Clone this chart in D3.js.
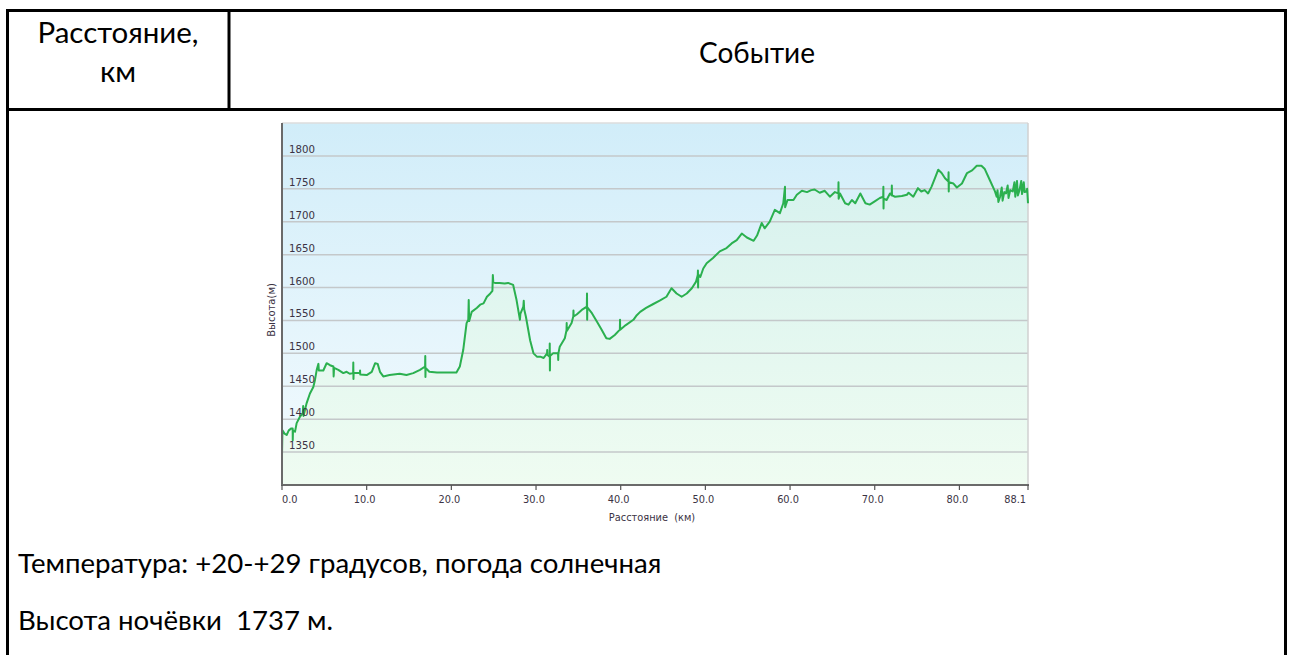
<!DOCTYPE html>
<html><head><meta charset="utf-8">
<script src="https://cdn.jsdelivr.net/npm/d3@7"></script>
<style>html,body{margin:0;padding:0;background:#fff;overflow:hidden}</style>
</head><body><svg id="c" width="1291" height="655"></svg>
<script>
// ---- data ----
const distKm = [0.0,0.05,0.3,0.55,0.8,1.1,1.26,1.27,1.3,1.54,1.73,2.13,2.45,2.5,2.55,2.9,3.3,3.7,3.9,4.1,4.3,4.35,4.88,5.27,5.67,6.07,6.1,6.15,6.65,7.24,7.63,8.0,8.4,8.42,8.44,8.46,9.2,9.22,9.24,10.0,10.6,11.0,11.3,11.57,11.96,12.7,13.9,14.7,15.5,16.3,16.9,16.92,16.94,16.96,17.4,18.3,19.45,20.2,20.6,21.0,21.4,21.8,22.0,22.05,22.1,22.4,23.0,23.4,23.8,24.2,24.6,24.85,24.9,24.95,25.15,25.7,26.3,26.7,27.3,27.7,28.1,28.15,28.5,28.55,28.6,28.8,29.3,29.7,30.1,30.5,30.9,31.3,31.32,31.34,31.6,31.62,31.64,31.66,32.0,32.6,32.62,32.64,32.8,33.4,33.6,33.62,33.64,34.2,34.4,34.42,34.44,34.8,35.4,36.0,36.02,36.04,36.06,36.6,37.2,37.75,38.3,38.7,39.3,39.9,39.92,39.94,40.6,41.5,41.9,42.3,43.0,43.85,44.6,45.4,46.0,46.6,47.2,47.8,48.4,48.9,49.1,49.12,49.14,49.16,49.4,49.75,50.15,50.9,51.7,52.5,53.1,53.7,54.3,54.9,55.7,56.1,56.65,57.0,57.6,58.2,58.8,59.2,59.4,59.42,59.7,60.4,60.8,61.4,62.0,62.5,62.9,63.5,64.1,64.7,65.3,65.7,65.72,65.74,65.9,66.5,66.9,67.3,67.7,68.3,68.9,69.4,70.0,70.6,71.0,71.02,71.04,71.06,71.4,71.8,72.0,72.02,72.04,72.4,73.2,73.8,74.0,74.55,75.1,75.5,75.9,76.3,76.7,77.1,77.5,77.9,78.3,78.7,78.72,78.74,78.76,79.3,79.7,80.3,80.9,81.5,82.05,82.6,83.0,83.6,84.2,84.4,84.5,84.6,84.8,85.0,85.1,85.3,85.5,85.7,85.8,86.0,86.3,86.5,86.6,86.8,86.9,87.1,87.3,87.4,87.6,87.7,87.9,88.0,88.1];
const elevM = [1345,1383,1378,1376,1383,1386,1386,1368,1383,1381,1394,1404,1409,1420,1405,1424,1439,1449,1460,1475,1484,1474,1474,1485,1482,1480,1465,1478,1475,1470,1472,1469,1470,1486,1461,1470,1470,1474,1468,1467,1472,1485,1484,1472,1465,1467,1469,1467,1470,1475,1480,1496,1464,1478,1472,1471,1471,1471,1471,1480,1505,1546,1551,1581,1549,1563,1569,1574,1576,1586,1591,1595,1619,1608,1607,1607,1606,1607,1604,1581,1551,1560,1571,1580,1567,1556,1520,1500,1495,1495,1493,1500,1505,1498,1495,1515,1474,1496,1500,1500,1490,1500,1510,1523,1535,1546,1534,1546,1556,1565,1556,1559,1566,1571,1591,1551,1570,1561,1548,1536,1523,1522,1528,1536,1551,1536,1543,1551,1558,1563,1569,1575,1580,1586,1599,1591,1586,1591,1599,1609,1619,1626,1600,1620,1616,1629,1637,1645,1655,1660,1667,1672,1682,1676,1671,1679,1698,1690,1700,1718,1713,1728,1753,1722,1733,1733,1741,1747,1745,1748,1749,1744,1747,1738,1745,1743,1760,1735,1743,1728,1726,1733,1728,1743,1728,1726,1731,1736,1738,1753,1720,1735,1733,1743,1740,1755,1740,1738,1739,1741,1744,1738,1751,1746,1748,1743,1753,1766,1779,1774,1766,1761,1775,1746,1760,1758,1752,1758,1774,1778,1785,1785,1780,1763,1746,1738,1748,1730,1738,1752,1732,1745,1743,1755,1736,1748,1746,1760,1738,1762,1740,1748,1762,1742,1760,1745,1746,1750,1728];
const yTicks = [1350,1400,1450,1500,1550,1600,1650,1700,1750,1800];
const xTicks = [0,10,20,30,40,50,60,70,80,88.1];
const headerCol1 = ["Расстояние,", "км"];
const headerCol2 = ["Событие"];
const notes = ["Температура: +20-+29 градусов, погода солнечная", "Высота ночёвки  1737 м."];
const xTitle = "Расстояние  (км)";
const yTitle = "Высота(м)";

// ---- drawing ----
const svg = d3.select("#c");
svg.append("rect").attr("width",1291).attr("height",655).attr("fill","#fff");

const pts = distKm.map((d,i)=>({d, e: elevM[i]}));
const x = d3.scaleLinear().domain([0, 88.1]).range([282, 1028]);
const y = d3.scaleLinear().domain([1300, 1850]).range([485, 123]);

const defs = svg.append("defs");
const bg = defs.append("linearGradient").attr("id","bg").attr("gradientUnits","userSpaceOnUse")
  .attr("x1",0).attr("y1",123).attr("x2",0).attr("y2",485);
bg.append("stop").attr("offset",0).attr("stop-color","#d1edf9");
bg.append("stop").attr("offset",1).attr("stop-color","#f4fbfe");
const ag = defs.append("linearGradient").attr("id","ag").attr("gradientUnits","userSpaceOnUse")
  .attr("x1",0).attr("y1",123).attr("x2",0).attr("y2",485);
ag.append("stop").attr("offset",0).attr("stop-color","#d3f0ee");
ag.append("stop").attr("offset",1).attr("stop-color","#effcf1");

// plot background
svg.append("rect").attr("x",x(0)).attr("y",y(1850)).attr("width",x(88.1)-x(0)).attr("height",y(1300)-y(1850)).attr("fill","url(#bg)");

// area
const area = d3.area().x(p=>x(p.d)).y0(y(1300)).y1(p=>y(p.e));
svg.append("path").datum(pts).attr("d",area).attr("fill","url(#ag)");

// gridlines
svg.append("g").selectAll("line").data(yTicks).join("line")
  .attr("x1",x(0)).attr("x2",x(88.1)).attr("y1",v=>y(v)).attr("y2",v=>y(v))
  .attr("stroke","#c4c8ca").attr("stroke-width",1.5);

// border top/right
svg.append("line").attr("x1",x(0)).attr("x2",x(88.1)).attr("y1",y(1850)).attr("y2",y(1850)).attr("stroke","#dcdcdc").attr("stroke-width",1.5);
svg.append("line").attr("x1",x(88.1)).attr("x2",x(88.1)).attr("y1",y(1850)).attr("y2",y(1300)).attr("stroke","#d0d0d0").attr("stroke-width",1.5);

// line
const line = d3.line().x(p=>x(p.d)).y(p=>y(p.e));
svg.append("path").datum(pts).attr("d",line).attr("fill","none")
  .attr("stroke","#2bb04f").attr("stroke-width",2).attr("stroke-linejoin","round");

// y tick labels (inside plot)
svg.append("g").selectAll("text").data(yTicks).join("text")
  .attr("x",289).attr("y",v=>y(v)-3)
  .attr("font-family","DejaVu Sans, Verdana, sans-serif").attr("font-size",10.2)
  .attr("fill","#3b3344").text(v=>v);

// axes lines
svg.append("line").attr("x1",x(0)).attr("x2",x(0)).attr("y1",y(1850)).attr("y2",y(1300)+1).attr("stroke","#6a6a6a").attr("stroke-width",2);
svg.append("line").attr("x1",x(0)-1).attr("x2",x(88.1)+1).attr("y1",y(1300)).attr("y2",y(1300)).attr("stroke","#6a6a6a").attr("stroke-width",2);

// x ticks
const xt = svg.append("g");
xt.selectAll("line").data(xTicks).join("line")
  .attr("x1",v=>x(v)).attr("x2",v=>x(v)).attr("y1",y(1300)).attr("y2",y(1300)+5)
  .attr("stroke","#555").attr("stroke-width",1.2);
xt.selectAll("text").data(xTicks).join("text")
  .attr("x",(v,i)=> i===0 ? x(v) : x(v)-2)
  .attr("y",503)
  .attr("text-anchor",(v,i)=> i===0 ? "start" : (i===xTicks.length-1 ? "end" : "middle"))
  .attr("font-family","DejaVu Sans, Verdana, sans-serif").attr("font-size",9.8)
  .attr("fill","#3b3344").text(v=>v.toFixed(1));

svg.append("text").attr("x",652).attr("y",521).attr("text-anchor","middle")
  .attr("font-family","DejaVu Sans, Verdana, sans-serif").attr("font-size",9.8)
  .attr("fill","#3b3344").style("white-space","pre").text(xTitle);
svg.append("text").attr("transform","translate(275,310) rotate(-90)").attr("text-anchor","middle")
  .attr("font-family","DejaVu Sans, Verdana, sans-serif").attr("font-size",10)
  .attr("fill","#3b3344").text(yTitle);

// ---- table ----
const tb = svg.append("g").attr("stroke","#000").attr("stroke-width",3);
tb.append("line").attr("x1",7.5).attr("x2",7.5).attr("y1",9).attr("y2",655);
tb.append("line").attr("x1",1285.5).attr("x2",1285.5).attr("y1",9).attr("y2",655);
tb.append("line").attr("x1",6).attr("x2",1287).attr("y1",10.5).attr("y2",10.5);
tb.append("line").attr("x1",6).attr("x2",1287).attr("y1",109.5).attr("y2",109.5);
tb.append("line").attr("x1",229).attr("x2",229).attr("y1",10).attr("y2",109);

const tf = "Lato, 'Open Sans', 'Noto Sans', sans-serif";
svg.append("g").selectAll("text").data(headerCol1).join("text")
  .attr("x",118).attr("y",(d,i)=>43+i*39).attr("text-anchor","middle")
  .attr("font-family",tf).attr("font-size",29.5).attr("fill","#000").text(d=>d);
svg.append("g").selectAll("text").data(headerCol2).join("text")
  .attr("x",757).attr("y",63).attr("text-anchor","middle")
  .attr("font-family",tf).attr("font-size",28).attr("fill","#000").text(d=>d);
svg.append("g").selectAll("text").data(notes).join("text")
  .attr("x",18).attr("y",(d,i)=>573+i*57)
  .attr("font-family",tf).attr("font-size",27.6).attr("fill","#000")
  .style("white-space","pre").text(d=>d);
</script></body></html>
